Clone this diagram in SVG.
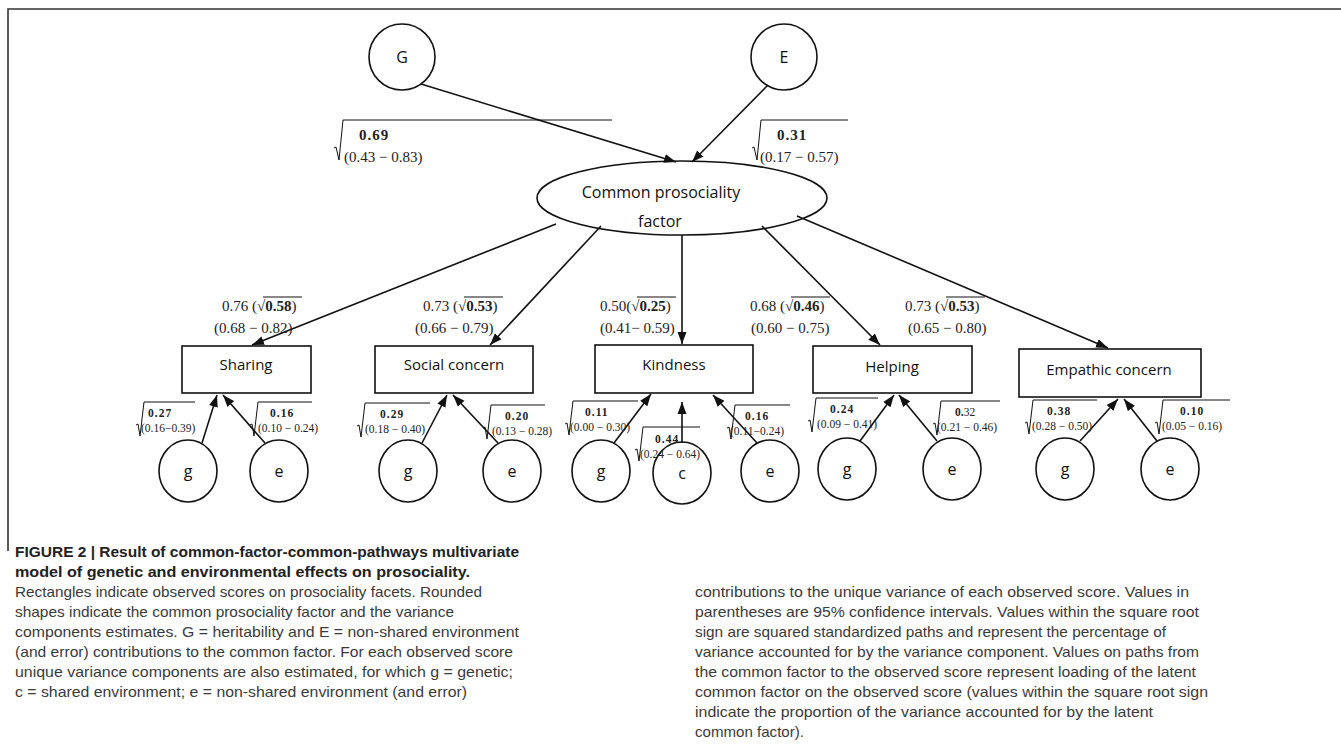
<svg xmlns="http://www.w3.org/2000/svg" width="1341" height="756" viewBox="0 0 1341 756">
<defs>
<marker id="ah" viewBox="0 0 12 10" refX="12" refY="5" markerWidth="12" markerHeight="10" markerUnits="userSpaceOnUse" orient="auto"><path d="M0,0.5 L12,5 L0,9.5 z" fill="#111"/></marker>
</defs>
<style>
.nd{fill:#fff;stroke:#111;stroke-width:1.6}
.lb{font-family:"Open Sans","Liberation Sans",sans-serif;font-size:15px;fill:#111;text-anchor:middle}
.ce{font-family:"Open Sans","Liberation Sans",sans-serif;font-size:16px;fill:#111;text-anchor:middle}
.cn line,.cn path{stroke:#111;stroke-width:1.6;fill:none}
.ar{marker-end:url(#ah)}
.rad{stroke:#111;stroke-width:1;fill:none}
.m{font-family:"Liberation Serif","DejaVu Serif",serif;fill:#222}
.mt{font-size:15px}
.ms{font-size:11.5px}
.mb{font-weight:bold;letter-spacing:1px}
.cap{font-family:"Liberation Sans Narrow","Liberation Sans",sans-serif;font-size:15px;fill:#3a3a3a}
.capb{font-family:"Liberation Sans Narrow","Liberation Sans",sans-serif;font-size:15.5px;font-weight:bold;fill:#222}
</style>
<path d="M8,551 V9 H1341" fill="none" stroke="#333" stroke-width="1.6"/>

<g id="node-G"><circle class="nd" cx="402" cy="57" r="33"/><text class="ce" x="402" y="63">G</text></g>
<g id="node-E"><circle class="nd" cx="784" cy="57" r="33"/><text class="ce" x="784" y="63">E</text></g>
<g id="node-factor"><ellipse class="nd" cx="682" cy="198" rx="145" ry="37"/><text class="ce" x="661" y="198">Common prosociality</text><text class="ce" x="660" y="227">factor</text></g>

<g id="node-sharing"><rect class="nd" x="182" y="346" width="129" height="47"/><text class="lb" x="246" y="370">Sharing</text></g>
<g id="node-social"><rect class="nd" x="375" y="346" width="158" height="47"/><text class="lb" x="454" y="370">Social concern</text></g>
<g id="node-kindness"><rect class="nd" x="595" y="345" width="158" height="48"/><text class="lb" x="674" y="370">Kindness</text></g>
<g id="node-helping"><rect class="nd" x="813" y="346" width="159" height="47"/><text class="lb" x="892" y="372">Helping</text></g>
<g id="node-empathic"><rect class="nd" x="1019" y="349" width="182" height="48"/><text class="lb" x="1109" y="375">Empathic concern</text></g>

<g id="node-sharing-g"><ellipse class="nd" cx="188" cy="471" rx="29" ry="31"/><text class="ce" x="188" y="477">g</text></g>
<g id="node-sharing-e"><ellipse class="nd" cx="279" cy="471" rx="29" ry="31"/><text class="ce" x="279" y="477">e</text></g>
<g id="node-social-g"><ellipse class="nd" cx="408" cy="471" rx="29" ry="31"/><text class="ce" x="408" y="477">g</text></g>
<g id="node-social-e"><ellipse class="nd" cx="512" cy="471" rx="29" ry="31"/><text class="ce" x="512" y="477">e</text></g>
<g id="node-kindness-g"><ellipse class="nd" cx="601" cy="471" rx="29" ry="31"/><text class="ce" x="601" y="477">g</text></g>
<g id="node-kindness-c"><ellipse class="nd" cx="682" cy="473" rx="29" ry="31"/><text class="ce" x="682" y="479">c</text></g>
<g id="node-kindness-e"><ellipse class="nd" cx="770" cy="471" rx="29" ry="31"/><text class="ce" x="770" y="477">e</text></g>
<g id="node-helping-g"><ellipse class="nd" cx="847" cy="469" rx="29" ry="31"/><text class="ce" x="847" y="475">g</text></g>
<g id="node-helping-e"><ellipse class="nd" cx="952" cy="469" rx="29" ry="31"/><text class="ce" x="952" y="475">e</text></g>
<g id="node-empathic-g"><ellipse class="nd" cx="1065" cy="469" rx="29" ry="31"/><text class="ce" x="1065" y="475">g</text></g>
<g id="node-empathic-e"><ellipse class="nd" cx="1170" cy="469" rx="29" ry="31"/><text class="ce" x="1170" y="475">e</text></g>

<g id="connectors" class="cn">
<line class="ar" x1="421" y1="84" x2="676" y2="162"/>
<line class="ar" x1="768" y1="85" x2="692" y2="162"/>
<line class="ar" x1="556" y1="224" x2="252" y2="345"/>
<line class="ar" x1="601" y1="226" x2="490" y2="345"/>
<line class="ar" x1="682" y1="235" x2="682" y2="344"/>
<line class="ar" x1="762" y1="226" x2="880" y2="345"/>
<line class="ar" x1="797" y1="216" x2="1108" y2="348"/>
<line class="ar" x1="202" y1="443" x2="217" y2="395"/>
<line class="ar" x1="265" y1="443" x2="223" y2="395"/>
<line class="ar" x1="422" y1="443" x2="447" y2="395"/>
<line class="ar" x1="498" y1="443" x2="453" y2="395"/>
<line class="ar" x1="614" y1="443" x2="651" y2="394"/>
<line class="ar" x1="682" y1="443" x2="682" y2="402"/>
<line class="ar" x1="757" y1="443" x2="713" y2="395"/>
<line class="ar" x1="860" y1="441" x2="894" y2="395"/>
<line class="ar" x1="937" y1="441" x2="899" y2="395"/>
<line class="ar" x1="1080" y1="441" x2="1118" y2="399"/>
<line class="ar" x1="1157" y1="441" x2="1124" y2="399"/>
</g>

<g id="labels-top">
<path class="rad" d="M334,148 l2,-1 l3,13 l4,-40 H612"/>
<text class="m mt mb" x="359" y="140">0.69</text>
<text class="m mt" x="344" y="162">(0.43 − 0.83)</text>
<path class="rad" d="M752,148 l2,-1 l3,13 l4,-40 H848"/>
<text class="m mt mb" x="777" y="140">0.31</text>
<text class="m mt" x="760" y="162">(0.17 − 0.57)</text>
</g>

<g id="labels-loading" class="m mt">
<text x="222" y="311">0.76 (√<tspan font-weight="bold">0.58</tspan>)</text>
<line class="rad" x1="263" y1="297" x2="302" y2="297"/>
<text x="214" y="333">(0.68 − 0.82)</text>
<text x="423" y="311">0.73 (√<tspan font-weight="bold">0.53</tspan>)</text>
<line class="rad" x1="464" y1="297" x2="503" y2="297"/>
<text x="415" y="333">(0.66 − 0.79)</text>
<text x="600" y="311">0.50(√<tspan font-weight="bold">0.25</tspan>)</text>
<line class="rad" x1="637" y1="297" x2="676" y2="297"/>
<text x="600" y="333">(0.41− 0.59)</text>
<text x="750" y="311">0.68 (√<tspan font-weight="bold">0.46</tspan>)</text>
<line class="rad" x1="791" y1="297" x2="830" y2="297"/>
<text x="751" y="333">(0.60 − 0.75)</text>
<text x="905" y="311">0.73 (√<tspan font-weight="bold">0.53</tspan>)</text>
<line class="rad" x1="946" y1="297" x2="985" y2="297"/>
<text x="908" y="333">(0.65 − 0.80)</text>
</g>

<g id="labels-unique">
<path class="rad" d="M136,425 l2,-1 l2,12 l4,-34 H195"/>
<text class="m ms mb" x="148" y="417">0.27</text><text class="m ms" x="141" y="432">(0.16−0.39)</text>
<path class="rad" d="M250,425 l2,-1 l2,12 l4,-34 H312"/>
<text class="m ms mb" x="270" y="417">0.16</text><text class="m ms" x="258" y="432">(0.10 − 0.24)</text>
<path class="rad" d="M357,426 l2,-1 l2,12 l4,-34 H430"/>
<text class="m ms mb" x="380" y="418">0.29</text><text class="m ms" x="365" y="433">(0.18 − 0.40)</text>
<path class="rad" d="M483,428 l2,-1 l2,12 l4,-34 H545"/>
<text class="m ms mb" x="505" y="420">0.20</text><text class="m ms" x="492" y="435">(0.13 − 0.28)</text>
<path class="rad" d="M565,424 l2,-1 l2,12 l4,-34 H638"/>
<text class="m ms mb" x="585" y="416">0.11</text><text class="m ms" x="570" y="431">(0.00 − 0.30)</text>
<path class="rad" d="M635,450 l2,-1 l2,12 l4,-34 H700"/>
<text class="m ms mb" x="655" y="443">0.44</text><text class="m ms" x="640" y="458">(0.24 − 0.64)</text>
<path class="rad" d="M727,428 l2,-1 l2,12 l4,-34 H790"/>
<text class="m ms mb" x="745" y="420">0.16</text><text class="m ms" x="730" y="435">(0.11−0.24)</text>
<path class="rad" d="M808,421 l2,-1 l2,12 l4,-34 H878"/>
<text class="m ms mb" x="830" y="413">0.24</text><text class="m ms" x="817" y="428">(0.09 − 0.41)</text>
<path class="rad" d="M933,424 l2,-1 l2,12 l4,-34 H1000"/>
<text class="m ms" x="955" y="416"><tspan font-weight="bold">0.</tspan>32</text><text class="m ms" x="937" y="431">(0.21 − 0.46)</text>
<path class="rad" d="M1025,423 l2,-1 l2,12 l4,-34 H1097"/>
<text class="m ms mb" x="1047" y="415">0.38</text><text class="m ms" x="1032" y="430">(0.28 − 0.50)</text>
<path class="rad" d="M1155,423 l2,-1 l2,12 l4,-34 H1230"/>
<text class="m ms mb" x="1180" y="415">0.10</text><text class="m ms" x="1162" y="430">(0.05 − 0.16)</text>
</g>

<g id="caption">
<text class="capb" x="15" y="557" textLength="504" lengthAdjust="spacingAndGlyphs">FIGURE 2 | Result of common-factor-common-pathways multivariate</text>
<text class="capb" x="15" y="577" textLength="455" lengthAdjust="spacingAndGlyphs">model of genetic and environmental effects on prosociality.</text>
<text class="cap" x="15" y="597" textLength="467" lengthAdjust="spacingAndGlyphs">Rectangles indicate observed scores on prosociality facets. Rounded</text>
<text class="cap" x="15" y="617" textLength="439" lengthAdjust="spacingAndGlyphs">shapes indicate the common prosociality factor and the variance</text>
<text class="cap" x="15" y="637" textLength="504" lengthAdjust="spacingAndGlyphs">components estimates. G = heritability and E = non-shared environment</text>
<text class="cap" x="15" y="657" textLength="498" lengthAdjust="spacingAndGlyphs">(and error) contributions to the common factor. For each observed score</text>
<text class="cap" x="15" y="677" textLength="498" lengthAdjust="spacingAndGlyphs">unique variance components are also estimated, for which g = genetic;</text>
<text class="cap" x="15" y="697" textLength="452" lengthAdjust="spacingAndGlyphs">c = shared environment; e = non-shared environment (and error)</text>
<text class="cap" x="695" y="597" textLength="494" lengthAdjust="spacingAndGlyphs">contributions to the unique variance of each observed score. Values in</text>
<text class="cap" x="695" y="617" textLength="504" lengthAdjust="spacingAndGlyphs">parentheses are 95% confidence intervals. Values within the square root</text>
<text class="cap" x="695" y="637" textLength="471" lengthAdjust="spacingAndGlyphs">sign are squared standardized paths and represent the percentage of</text>
<text class="cap" x="695" y="657" textLength="504" lengthAdjust="spacingAndGlyphs">variance accounted for by the variance component. Values on paths from</text>
<text class="cap" x="695" y="677" textLength="501" lengthAdjust="spacingAndGlyphs">the common factor to the observed score represent loading of the latent</text>
<text class="cap" x="695" y="697" textLength="513" lengthAdjust="spacingAndGlyphs">common factor on the observed score (values within the square root sign</text>
<text class="cap" x="695" y="717" textLength="458" lengthAdjust="spacingAndGlyphs">indicate the proportion of the variance accounted for by the latent</text>
<text class="cap" x="695" y="737" textLength="109" lengthAdjust="spacingAndGlyphs">common factor).</text>
</g>
</svg>
